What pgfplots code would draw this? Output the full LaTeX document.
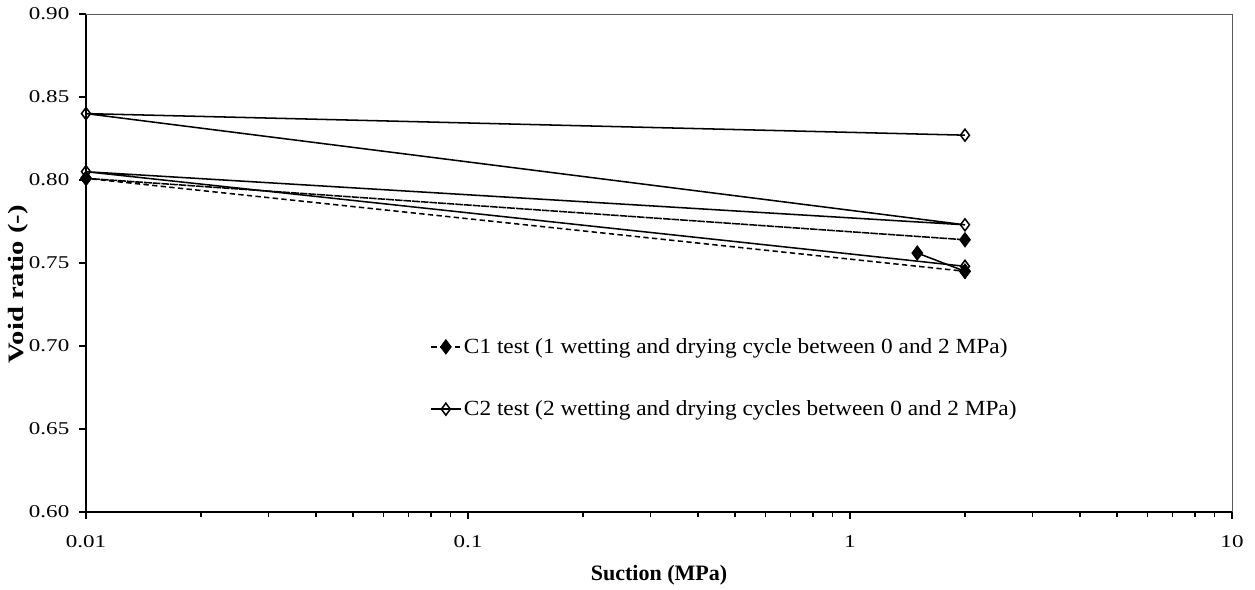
\documentclass[border=0pt]{standalone}
\usepackage{fontspec}
\setmainfont{Liberation Serif}
\newfontfamily\tickfont[FakeStretch=1.28]{Liberation Serif}
\newfontfamily\ylabfont[FakeStretch=1.3]{Liberation Serif}
\newfontfamily\legfont[FakeStretch=1.08]{Liberation Serif}
\usepackage{pgfplots}
\pgfplotsset{compat=1.18}
\begin{document}
\begin{tikzpicture}
\begin{axis}[
  scale only axis,
  width=859.5pt, height=373.5pt,
  xmode=log,
  xmin=0.01, xmax=10,
  ymin=0.60, ymax=0.90,
  axis lines=left,
  axis line style={-, line width=1pt, black},
  xtick={0.01,0.1,1,10},
  xticklabels={0.01,0.1,1,10},
  ytick={0.60,0.65,...,0.90},
  yticklabel style={/pgf/number format/fixed,/pgf/number format/fixed zerofill,/pgf/number format/precision=2},
  /pgf/number format/assume math mode=true,
  tick align=outside,
  major tick length=5pt,
  minor tick length=3.5pt,
  tick style={line width=0.8pt, black},
  tick label style={font=\tickfont\fontsize{13.5}{16}\selectfont},
  xticklabel style={yshift=-9pt},
  yticklabel style={xshift=-4pt},
  xlabel={\textbf{Suction (MPa)}},
  ylabel={\textbf{Void ratio (-)}},
  xlabel style={font=\fontsize{16.5}{19}\selectfont, at={([yshift=-47.25pt]axis description cs:0.5,0)}, anchor=center},
  ylabel style={font=\ylabfont\fontsize{16.5}{19}\selectfont, at={([xshift=-51pt,yshift=-16pt]axis description cs:0,0.5)}, anchor=center},
  legend style={at={(axis description cs:0.298,0.269)}, anchor=west, draw=none, fill=none,
    row sep=30pt, font=\legfont\fontsize{16.2}{19}\selectfont, inner sep=2pt},
  legend cell align=left,
  legend image code/.code={\draw[#1] (0pt,0pt) -- (11pt,0pt) plot coordinates {(11pt,0pt)} -- (22pt,0pt);},
  clip=false,
]
\addplot[black, line width=1.15pt, dash pattern=on 4pt off 2.5pt, mark=diamond*, mark size=5pt,
  mark options={solid, fill=black}]
  coordinates {(0.01,0.801) (2,0.764) (0.01,0.801) (2,0.745)};
\addlegendentry{C1 test (1 wetting and drying cycle between 0 and 2 MPa)}
\addplot[black, line width=1.15pt, mark=diamond, mark size=4.5pt,
  mark options={solid, fill=white}]
  coordinates {(2,0.827) (0.01,0.840) (2,0.773) (0.01,0.805) (2,0.748)};
\addlegendentry{C2 test (2 wetting and drying cycles between 0 and 2 MPa)}
\addplot[black, line width=1.15pt, mark=diamond*, mark size=5pt, mark options={fill=black}, forget plot]
  coordinates {(1.5,0.756) (2,0.745)};
\draw[gray!70!black, line width=0.6pt] (rel axis cs:0,1) -- (rel axis cs:1,1) -- (rel axis cs:1,0);
\end{axis}
\path[use as bounding box] ([xshift=-64.5pt,yshift=-56.25pt]current axis.south west) rectangle ([xshift=17.25pt,yshift=10.5pt]current axis.north east);
\end{tikzpicture}
\end{document}
